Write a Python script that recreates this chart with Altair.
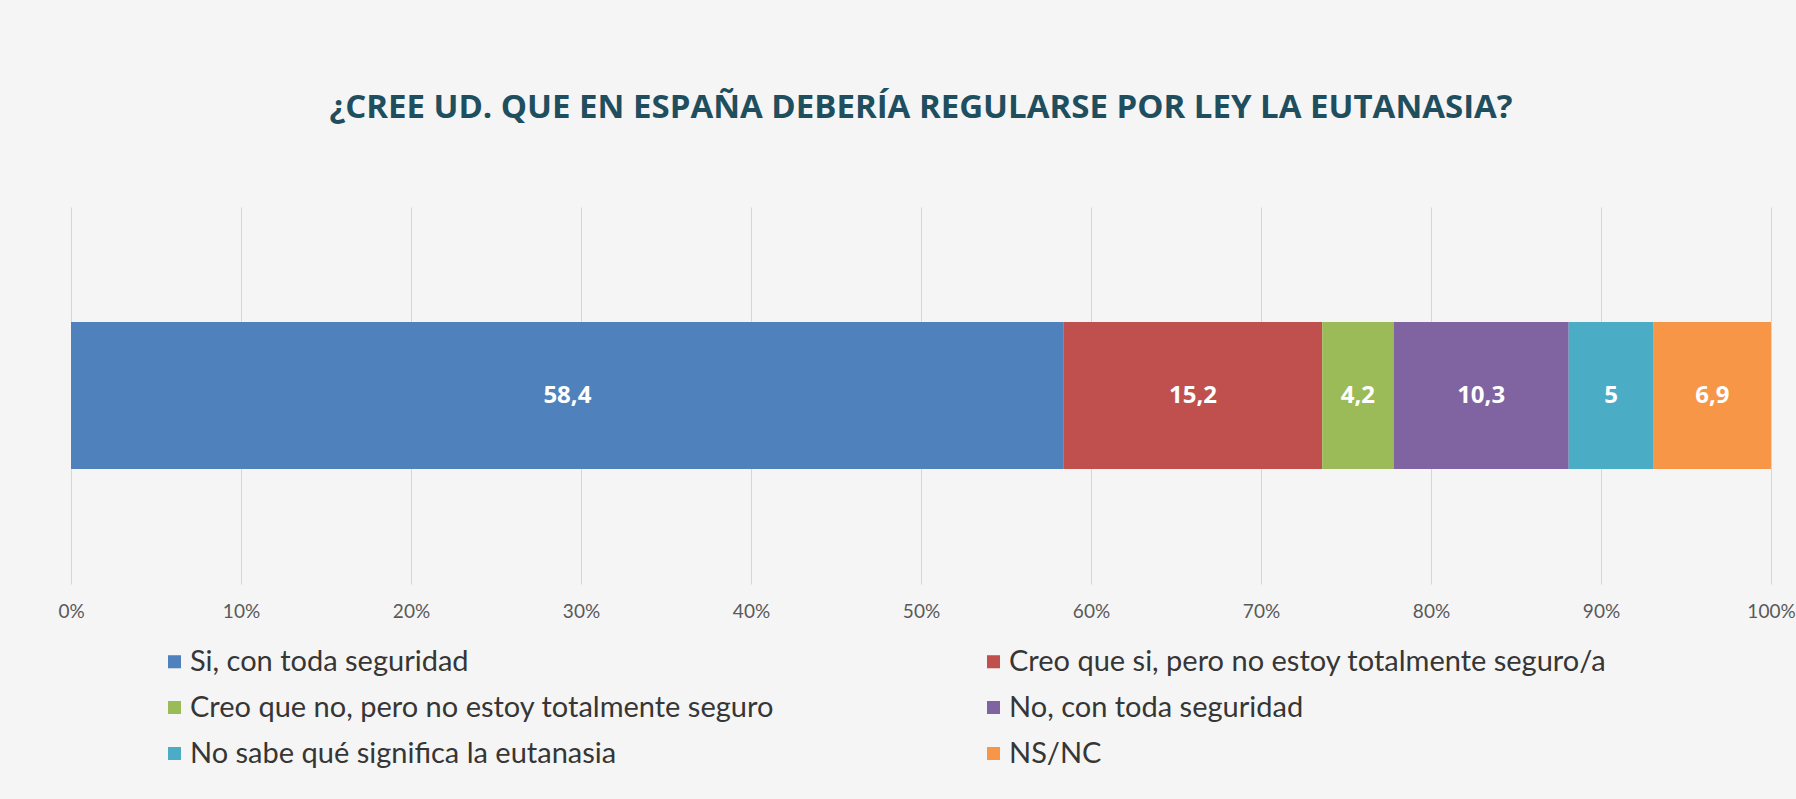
import altair as alt
import pandas as pd

categories = [
    "Si, con toda seguridad",
    "Creo que si, pero no estoy totalmente seguro/a",
    "Creo que no, pero no estoy totalmente seguro",
    "No, con toda seguridad",
    "No sabe qué significa la eutanasia",
    "NS/NC",
]
values = [58.4, 15.2, 4.2, 10.3, 5.0, 6.9]
labels = ["58,4", "15,2", "4,2", "10,3", "5", "6,9"]
colors = ["#4F81BD", "#C0504D", "#9BBB59", "#8064A2", "#4BACC6", "#F79646"]
ticks = [0, 10, 20, 30, 40, 50, 60, 70, 80, 90, 100]

df = pd.DataFrame({
    "q": ["P"] * len(categories),
    "cat": categories,
    "value": values,
    "label": labels,
    "idx": list(range(len(categories))),
})

base = alt.Chart(df).transform_stack(
    stack="value", groupby=["q"], sort=[alt.SortField("idx")], as_=["x0", "x1"]
).transform_calculate(mid="(datum.x0 + datum.x1) / 2")

xscale = alt.Scale(domain=[0, 100], nice=False, zero=True)
yenc = alt.Y("q:N", axis=None, scale=alt.Scale(paddingInner=0, paddingOuter=0))

bars = base.mark_bar(height=147).encode(
    x=alt.X("x0:Q", scale=xscale,
            axis=alt.Axis(values=ticks, labelExpr="datum.value + '%'", title=None,
                          grid=True, gridColor="#d6d6d6", gridWidth=1,
                          domain=False, ticks=False, labelPadding=18,
                          labelFlush=False,
                          labelFontSize=19, labelColor="#595959",
                          labelFont="Lato")),
    x2="x1:Q",
    y=yenc,
    color=alt.Color("cat:N",
                    scale=alt.Scale(domain=categories, range=colors),
                    legend=alt.Legend(title=None, orient="none", legendX=89, legendY=440,
                                      columns=2, direction="horizontal",
                                      columnPadding=204, rowPadding=16,
                                      symbolType="square", symbolSize=170,
                                      symbolStrokeWidth=0, symbolOpacity=1,
                                      labelFontSize=29, labelFont="Lato",
                                      labelColor="#363636", labelOffset=1,
                                      labelLimit=0)),
)

text = base.mark_text(color="white", fontSize=24, fontWeight="bold", font="Open Sans").encode(
    x=alt.X("mid:Q", scale=xscale),
    y=yenc,
    text="label:N",
)

chart = alt.layer(bars, text).properties(
    width=1700,
    height=377,
    title=alt.Title("¿CREE UD. QUE EN ESPAÑA DEBERÍA REGULARSE POR LEY LA EUTANASIA?",
                    fontSize=33, font="Open Sans", fontWeight="bold", color="#1F4E5F",
                    offset=82),
    autosize=alt.AutoSizeParams(type="none"),
    padding={"left": 71, "top": 207, "right": 25, "bottom": 215},
    background="#f5f5f5",
).configure_view(stroke=None)

chart.save("out.html", embed_options={"renderer": "svg", "actions": False})
